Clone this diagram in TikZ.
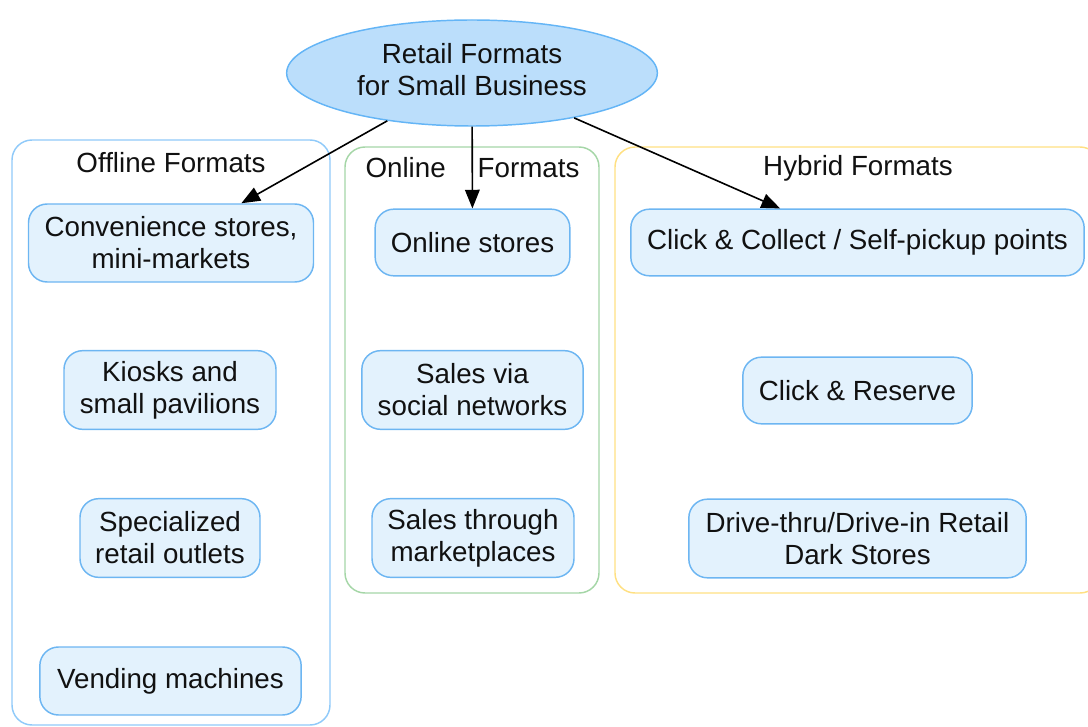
\documentclass[tikz,border=0pt]{standalone}
\usepackage{fontspec}
\setmainfont{Liberation Sans}
\usetikzlibrary{arrows.meta,shapes.geometric}
\definecolor{rootfill}{HTML}{BBDEFB}
\definecolor{rootline}{HTML}{64B5F6}
\definecolor{boxfill}{HTML}{E3F2FD}
\definecolor{boxline}{HTML}{6DB6F2}
\definecolor{offline}{HTML}{90CAF9}
\definecolor{online}{HTML}{A5D6A7}
\definecolor{hybrid}{HTML}{FFE082}
\definecolor{txt}{HTML}{111111}
\tikzset{
  item/.style={draw=boxline, fill=boxfill, rounded corners=14pt, line width=1.1pt,
    align=center, inner sep=0pt, text=txt},
  rootnode/.style={ellipse, draw=rootline, fill=rootfill, line width=1.1pt,
    align=center, inner sep=0pt, minimum width=278pt, minimum height=79.5pt, text=txt},
  cluster/.style={rounded corners=15pt, line width=1.1pt},
  clabel/.style={inner sep=0pt, text=txt},
  link/.style={draw=black, line width=1.2pt, -{Triangle[length=14pt,width=11pt]}}
}
\begin{document}
\begin{tikzpicture}[x=0.75pt,y=-0.75pt, font=\fontsize{20.8}{24}\selectfont]
\useasboundingbox (0,0) rectangle (1088,727);
% clusters
\draw[cluster, draw=offline] (12,140) rectangle (330,725);
\draw[cluster, draw=online] (345,147) rectangle (599,593);
\draw[cluster, draw=hybrid] (615,147) rectangle (1100,593);
\node[clabel] (offlab) at (171,163) {Offline Formats};
\node[clabel] (onlab) at (472.5,168) {Online\hspace{24pt}Formats};
\node[clabel] (hylab) at (858,168) {Hybrid Formats};
% root
\node[rootnode] (root) at (472,73) {\begin{tabular}{@{}c@{}}Retail Formats\\for Small Business\end{tabular}};
% offline
\node[item, minimum width=213.75pt, minimum height=58.5pt] (conv) at (171,243) {Convenience stores,\\mini-markets};
\node[item, minimum width=159pt, minimum height=59pt] (kiosk) at (170,390) {Kiosks and\\small pavilions};
\node[item, minimum width=135pt, minimum height=59pt] (spec) at (170,538) {Specialized\\retail outlets};
\node[item, minimum width=196pt, minimum height=51pt] (vend) at (170.5,681) {Vending machines};
% online
\node[item, minimum width=146pt, minimum height=50pt] (onl) at (472.5,242.5) {Online stores};
\node[item, minimum width=166pt, minimum height=59pt] (social) at (472.5,390) {Sales via\\social networks};
\node[item, minimum width=151.5pt, minimum height=59pt] (market) at (473,538) {Sales through\\marketplaces};
% hybrid
\node[item, minimum width=340pt, minimum height=50pt] (click) at (857.5,242.5) {Click \& Collect / Self-pickup points};
\node[item, minimum width=172pt, minimum height=50pt] (reserve) at (857.5,390.5) {Click \& Reserve};
\node[item, minimum width=253pt, minimum height=59pt] (drive) at (857.5,538.5) {Drive-thru/Drive-in Retail\\Dark Stores};
% links
\draw[link] (root) -- (conv);
\draw[link] (root) -- (onl);
\draw[link] (root) -- (click);
\end{tikzpicture}
\end{document}
